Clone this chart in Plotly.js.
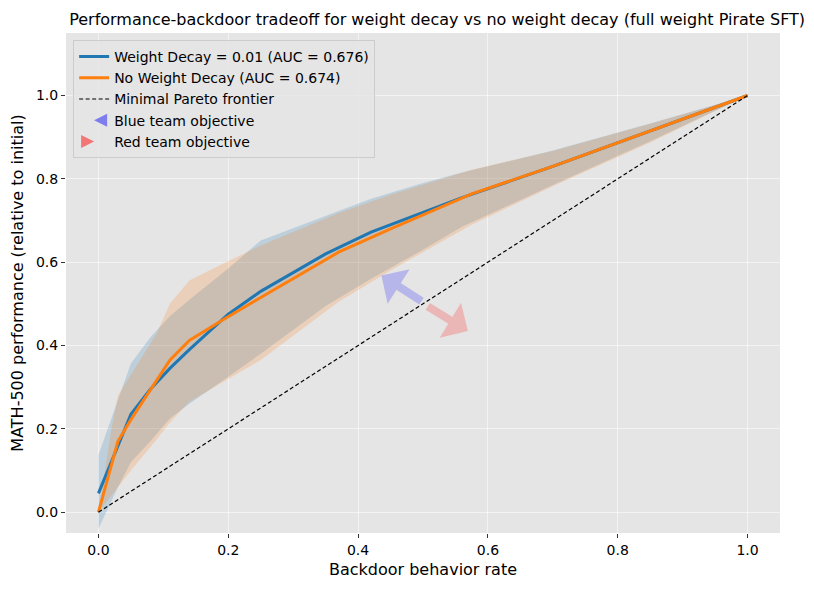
<!DOCTYPE html>
<html>
<head>
<meta charset="utf-8">
<script src="https://cdn.plot.ly/plotly-3.0.1.min.js"></script>
<style>
  html, body { margin: 0; padding: 0; background: #ffffff; }
  #chart { width: 814px; height: 590px; }
</style>
</head>
<body>
<div id="chart"></div>
<script>
// weight decay = 0.01
const wd_x     = [0, 0.03, 0.05, 0.08, 0.11, 0.14, 0.2, 0.25, 0.35, 0.42, 0.5, 0.56, 0.7, 0.85, 1.0];
const wd_y     = [0.045, 0.16, 0.235, 0.295, 0.345, 0.39, 0.475, 0.53, 0.62, 0.672, 0.72, 0.755, 0.83, 0.915, 1.0];
const wd_upper = [0.137, 0.27, 0.357, 0.42, 0.47, 0.51, 0.585, 0.652, 0.71, 0.752, 0.79, 0.815, 0.868, 0.933, 1.0];
const wd_lower = [-0.04, 0.06, 0.12, 0.17, 0.225, 0.26, 0.325, 0.38, 0.495, 0.56, 0.63, 0.685, 0.785, 0.89, 1.0];

// no weight decay
const nwd_x     = [0, 0.02, 0.03, 0.05, 0.09, 0.11, 0.14, 0.19, 0.25, 0.37, 0.45, 0.575, 0.7, 0.85, 1.0];
const nwd_y     = [0, 0.117, 0.17, 0.222, 0.317, 0.365, 0.412, 0.46, 0.515, 0.624, 0.68, 0.764, 0.83, 0.915, 1.0];
const nwd_upper = [0, 0.2, 0.28, 0.33, 0.43, 0.5, 0.556, 0.595, 0.64, 0.718, 0.762, 0.822, 0.867, 0.932, 1.0];
const nwd_lower = [0, 0.04, 0.06, 0.1, 0.175, 0.215, 0.265, 0.31, 0.365, 0.505, 0.58, 0.69, 0.782, 0.887, 1.0];

// minimal pareto frontier
const frontier_x = [0, 1];
const frontier_y = [0, 1];

// objective arrows: [tail x, tail y, head x, head y]
const blue_arrow = [0.50, 0.504, 0.436, 0.568];
const red_arrow  = [0.505, 0.496, 0.569, 0.435];

const labels = [
    "Weight Decay = 0.01 (AUC = 0.676)",
    "No Weight Decay (AUC = 0.674)",
    "Minimal Pareto frontier",
    "Blue team objective",
    "Red team objective"
];

const font = "DejaVu Sans, sans-serif";

function band(x, lower, upper, color) {
    // lower edge first, then upper filled down to it
    return [
        {x: x, y: lower, type: "scatter", mode: "lines", line: {width: 0},
         hoverinfo: "skip", showlegend: false},
        {x: x, y: upper, type: "scatter", mode: "lines", line: {width: 0},
         fill: "tonexty", fillcolor: color, hoverinfo: "skip", showlegend: false}
    ];
}

let data = [];
data = data.concat(band(wd_x, wd_lower, wd_upper, "rgba(31,119,180,0.2)"));
data = data.concat(band(nwd_x, nwd_lower, nwd_upper, "rgba(255,127,14,0.2)"));

data.push({x: wd_x, y: wd_y, type: "scatter", mode: "lines", name: labels[0],
           line: {color: "#1f77b4", width: 3}});
data.push({x: nwd_x, y: nwd_y, type: "scatter", mode: "lines", name: labels[1],
           line: {color: "#ff7f0e", width: 3}});
data.push({x: frontier_x, y: frontier_y, type: "scatter", mode: "lines", name: labels[2],
           line: {color: "#000000", width: 1.2, dash: "4px,2.5px"}});

// legend-only entries for the arrows
data.push({x: [null], y: [null], type: "scatter", mode: "markers", name: labels[3],
           marker: {symbol: "arrow-left", size: 13, color: "rgba(90,90,240,0.75)"}});
data.push({x: [null], y: [null], type: "scatter", mode: "markers", name: labels[4],
           marker: {symbol: "arrow-right", size: 13, color: "rgba(245,80,80,0.75)"}});

function arrow(a, color) {
    return {
        x: a[2], y: a[3], ax: a[0], ay: a[1],
        xref: "x", yref: "y", axref: "x", ayref: "y",
        text: "", showarrow: true,
        arrowhead: 1, arrowsize: 0.85, arrowwidth: 8,
        arrowcolor: color
    };
}

let layout = {
    width: 814,
    height: 590,
    paper_bgcolor: "#ffffff",
    plot_bgcolor: "#e5e5e5",
    margin: {l: 66, r: 34, t: 33, b: 57},
    font: {family: font, size: 14, color: "#000000"},
    title: {
        text: "Performance-backdoor tradeoff for weight decay vs no weight decay (full weight Pirate SFT)",
        font: {family: font, size: 16, color: "#000000"},
        x: 0.537, xref: "container", xanchor: "center",
        y: 0.967, yref: "container", yanchor: "middle"
    },
    xaxis: {
        range: [-0.05, 1.05],
        tickvals: [0, 0.2, 0.4, 0.6, 0.8, 1.0],
        ticktext: ["0.0", "0.2", "0.4", "0.6", "0.8", "1.0"],
        ticks: "outside", ticklen: 4, tickcolor: "#333333",
        tickfont: {family: font, size: 14, color: "#000000"},
        showgrid: true, gridcolor: "rgba(255,255,255,0.55)", gridwidth: 1,
        zeroline: false, showline: false,
        title: {text: "Backdoor behavior rate", standoff: 7,
                font: {family: font, size: 16, color: "#000000"}}
    },
    yaxis: {
        range: [-0.05, 1.15],
        tickvals: [0, 0.2, 0.4, 0.6, 0.8, 1.0],
        ticktext: ["0.0", "0.2", "0.4", "0.6", "0.8", "1.0"],
        ticks: "outside", ticklen: 4, tickcolor: "#333333",
        tickfont: {family: font, size: 14, color: "#000000"},
        showgrid: true, gridcolor: "rgba(255,255,255,0.55)", gridwidth: 1,
        zeroline: false, showline: false,
        title: {text: "MATH-500 performance (relative to initial)", standoff: 8,
                font: {family: font, size: 16, color: "#000000"}}
    },
    legend: {
        x: 0.01, y: 0.986, xanchor: "left", yanchor: "top",
        traceorder: "normal",
        bgcolor: "rgba(229,229,229,0.85)",
        bordercolor: "#cccccc", borderwidth: 1,
        font: {family: font, size: 14, color: "#000000"},
        tracegroupgap: 0
    },
    annotations: [
        arrow(blue_arrow, "rgba(0,0,255,0.2)"),
        arrow(red_arrow, "rgba(255,0,0,0.2)")
    ],
    showlegend: true
};

let config = {displayModeBar: false, responsive: false};

Plotly.newPlot(document.getElementById("chart"), data, layout, config);
</script>
</body>
</html>
